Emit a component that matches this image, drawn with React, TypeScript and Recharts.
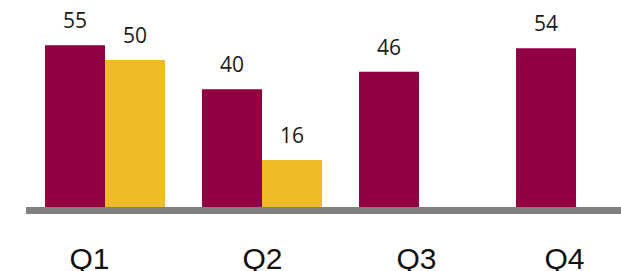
import React from 'react';
import { BarChart, Bar, XAxis, YAxis, LabelList } from 'recharts';

const quarters = ['Q1', 'Q2', 'Q3', 'Q4'];
const seriesA = [55, 40, 46, 54];
const seriesB = [50, 16, null, null];

// hand-placed labels in the original slide
const tickNudge = [-15, 1, -2, -11];

const chartData = quarters.map((q, i) => ({ name: q, a: seriesA[i], b: seriesB[i] }));

const QuarterTick = (props: any) => {
  const { x, y, payload, index } = props;
  return (
    <text
      x={x + (tickNudge[index] ?? 0)}
      y={y}
      dy={54}
      textAnchor="middle"
      fill="#111"
      fontFamily="'Liberation Sans', Arial, sans-serif"
      fontSize={30}
    >
      {payload.value}
    </text>
  );
};

export default function App() {
  return (
    <div style={{ position: 'fixed', top: 0, left: 0, width: 621, height: 271, background: '#fff', overflow: 'hidden' }}>
      <BarChart
        width={621}
        height={271}
        data={chartData}
        margin={{ top: 4, right: -33, bottom: 0, left: 26 }}
        barGap={0}
        barSize={60}
      >
        <XAxis
          dataKey="name"
          height={64}
          tickLine={false}
          axisLine={{ stroke: '#808080', strokeWidth: 7, transform: 'translate(0, 3.5)' }}
          tick={<QuarterTick />}
          interval={0}
        />
        <YAxis hide domain={[0, 69]} />
        <Bar dataKey="a" fill="#910041" isAnimationActive={false}>
          <LabelList dataKey="a" position="top" offset={17} fill="#1a1a1a" fontSize={21} fontFamily="'Open Sans', sans-serif" />
        </Bar>
        <Bar dataKey="b" fill="#F1BA29" isAnimationActive={false}>
          <LabelList dataKey="b" position="top" offset={17} fill="#1a1a1a" fontSize={21} fontFamily="'Open Sans', sans-serif" />
        </Bar>
      </BarChart>
    </div>
  );
}
